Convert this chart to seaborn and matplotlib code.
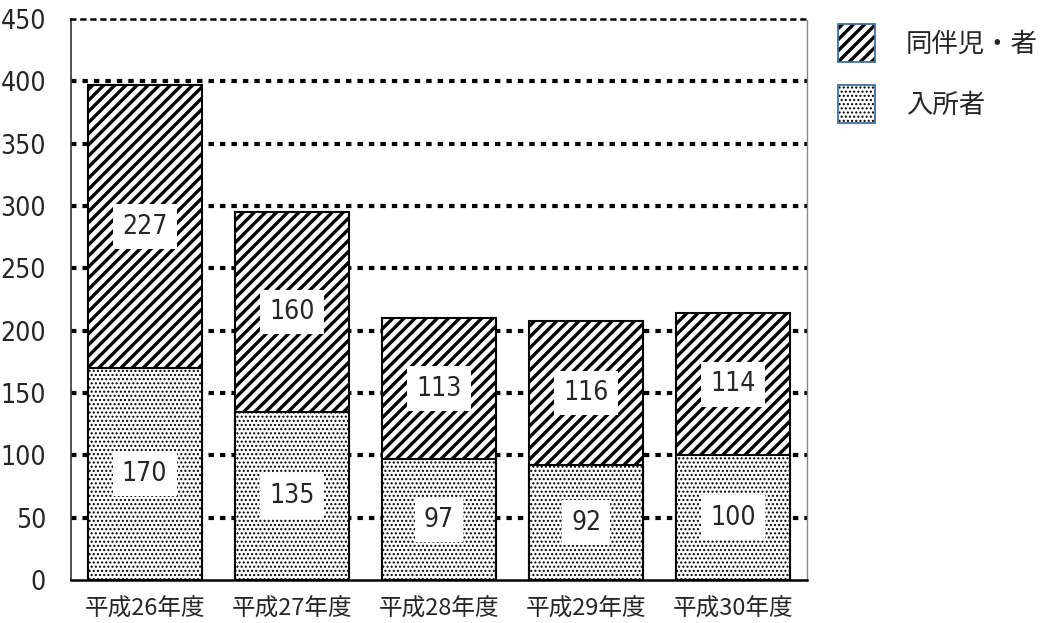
import matplotlib
matplotlib.use("Agg")
import matplotlib.pyplot as plt
from matplotlib import font_manager
from matplotlib.font_manager import FontProperties
from matplotlib.patches import Patch
from matplotlib.legend_handler import HandlerTuple
import seaborn as sns
import pandas as pd

# --- data -------------------------------------------------------------
years = ["平成26年度", "平成27年度", "平成28年度", "平成29年度", "平成30年度"]
residents = [170, 135, 97, 92, 100]          # 入所者
companions = [227, 160, 113, 116, 114]       # 同伴児・者
series_names = ["同伴児・者", "入所者"]
y_ticks = [0, 50, 100, 150, 200, 250, 300, 350, 400, 450]

sns.set_style("white")
plt.rcParams["font.family"] = ["Noto Sans CJK JP", "DejaVu Sans"]
plt.rcParams["hatch.color"] = "black"
plt.rcParams["hatch.linewidth"] = 2.4

DOT_LW = 1.0


def narrow_font():
    """Return FontProperties for a condensed face for numbers, if one exists."""
    for fam, stretch in [("Liberation Sans Narrow", "normal"),
                         ("DejaVu Sans", "condensed")]:
        fp = FontProperties(family=fam, stretch=stretch)
        try:
            path = font_manager.findfont(fp, fallback_to_default=False)
        except Exception:
            continue
        if "Narrow" in path or "Condensed" in path:
            return fp
    return FontProperties(family="Noto Sans CJK JP")


num_fp = narrow_font()

df = pd.DataFrame({
    "year": years,
    "resident": residents,
    "companion": companions,
})
df["total"] = df["resident"] + df["companion"]

fig = plt.figure(figsize=(10.43, 6.23), dpi=100)
ax = fig.add_axes([71 / 1043, 43 / 623, 736 / 1043, 561 / 623])

# dotted horizontal guides behind the bars
for v in y_ticks[1:-1]:
    ax.axhline(v, color="black", linewidth=3.0, linestyle=(0, (1.3, 1.45)), zorder=0)

# stacked bars: full-height hatched layer, then the lower dotted layer on top
sns.barplot(data=df, x="year", y="total", order=years, color="white",
            saturation=1, width=0.775, edgecolor="black", linewidth=1.5,
            hatch="///", ax=ax, zorder=2)
n_top = len(ax.patches)
sns.barplot(data=df, x="year", y="resident", order=years, color="white",
            saturation=1, width=0.775, edgecolor="black", linewidth=1.5,
            hatch="....", ax=ax, zorder=3)
for p in ax.patches[n_top:]:
    if hasattr(p, "set_hatch_linewidth"):
        p.set_hatch_linewidth(DOT_LW)

# value labels in white boxes
box = dict(boxstyle="square,pad=0.35", facecolor="white", edgecolor="none")
for i, (r, c) in enumerate(zip(residents, companions)):
    ax.text(i, r / 2, f"{r}", ha="center", va="center", fontproperties=num_fp,
            fontsize=19, bbox=box, zorder=5)
    ax.text(i, r + c / 2, f"{c}", ha="center", va="center", fontproperties=num_fp,
            fontsize=19, bbox=box, zorder=5)

ax.set_ylim(0, 450)
ax.set_xlim(-0.5, len(years) - 0.5)
ax.set_yticks(y_ticks)
ax.set_yticklabels([str(v) for v in y_ticks])
for t in ax.get_yticklabels():
    t.set_fontproperties(num_fp)
    t.set_fontsize(19)
ax.set_xlabel("")
ax.set_ylabel("")
ax.tick_params(axis="y", length=0, pad=18)
ax.tick_params(axis="x", length=0, pad=13, labelsize=17)

# boundary ticks between categories
ax.set_xticks([i + 0.5 for i in range(len(years) - 1)], minor=True)
ax.tick_params(axis="x", which="minor", direction="in", length=6, width=1.2, color="black")

for side in ["left", "right", "top", "bottom"]:
    ax.spines[side].set_visible(True)
ax.spines["left"].set_color("#444444")
ax.spines["left"].set_linewidth(1.3)
ax.spines["bottom"].set_color("black")
ax.spines["bottom"].set_linewidth(1.8)
ax.spines["right"].set_color("#888888")
ax.spines["right"].set_linewidth(1.0)
ax.spines["right"].set_linestyle((0, (1, 1)))
ax.spines["top"].set_color("black")
ax.spines["top"].set_linewidth(1.8)
ax.spines["top"].set_linestyle((0, (1.5, 2.5)))

# legend: black hatch fill overlaid with a steel-blue frame
frame_color = "#41719C"
stripe_fill = Patch(facecolor="white", edgecolor="black", linewidth=0, hatch="///")
dot_fill = Patch(facecolor="white", edgecolor="black", linewidth=0, hatch="....")
handles = [
    (stripe_fill, Patch(facecolor="none", edgecolor=frame_color, linewidth=1.3)),
    (dot_fill, Patch(facecolor="none", edgecolor=frame_color, linewidth=1.3)),
]
leg = fig.legend(handles, series_names, loc="upper left",
                 handler_map={tuple: HandlerTuple(ndivide=1, pad=0)},
                 bbox_to_anchor=(838 / 1043, 1 - 24 / 623), bbox_transform=fig.transFigure,
                 frameon=False, fontsize=19, handlelength=1.42, handleheight=1.84,
                 handletextpad=1.15, labelspacing=0.88, borderpad=0, borderaxespad=0)
for child in leg.findobj(Patch):
    if child.get_hatch() == "...." and hasattr(child, "set_hatch_linewidth"):
        child.set_hatch_linewidth(DOT_LW)

fig.savefig("out.png", dpi=100)
